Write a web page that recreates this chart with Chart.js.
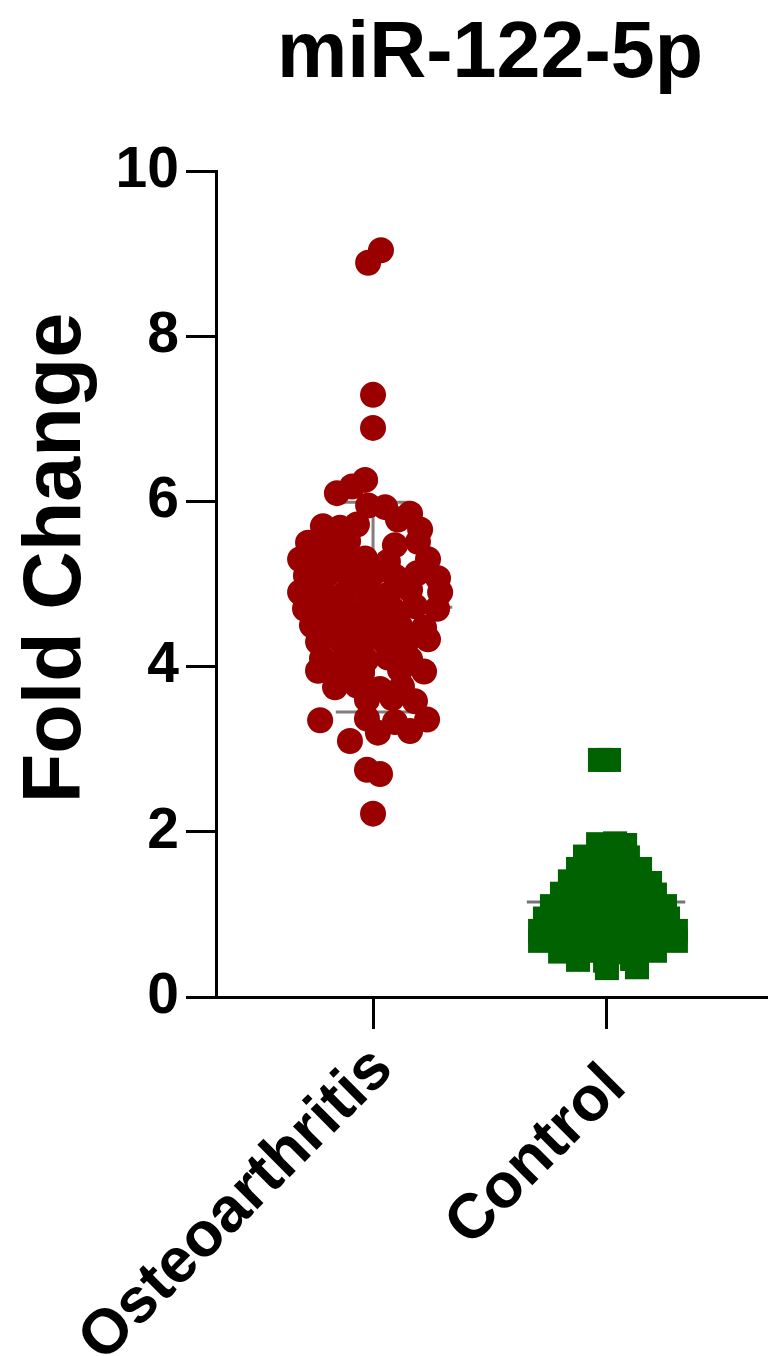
<!DOCTYPE html>
<html>
<head>
<meta charset="utf-8">
<script src="https://cdn.jsdelivr.net/npm/chart.js@4.4.0/dist/chart.umd.min.js"></script>
<style>
  body { margin: 0; background: #fff; }
  canvas { display: block; }
</style>
</head>
<body>
<canvas id="chart" width="769" height="1356"></canvas>
<script>
const chartTitle = "miR-122-5p";
const yTitle = "Fold Change";
const groups = ["Osteoarthritis", "Control"];
const groupPos = [1, 2];
const yTicks = [0, 2, 4, 6, 8, 10];

// Osteoarthritis: fold change values + horizontal jitter (x offset from group centre)
const oaValues = [
  9.04, 8.89, 7.29, 6.89, 6.26, 6.18, 6.10, 5.95, 5.93, 5.85, 5.78,
  5.70, 5.68, 5.72, 5.66,
  5.50, 5.48, 5.52, 5.47, 5.51,
  5.30, 5.32, 5.28, 5.31, 5.27, 5.30,
  5.10, 5.12, 5.08, 5.11, 5.09, 5.13, 5.07,
  4.90, 4.92, 4.88, 4.91, 4.87, 4.93, 4.90,
  4.70, 4.72, 4.68, 4.71, 4.69, 4.73, 4.70,
  4.50, 4.52, 4.48, 4.51, 4.49, 4.47,
  4.30, 4.32, 4.28, 4.31, 4.29, 4.33,
  4.10, 4.12, 4.08, 4.11, 4.09,
  3.95, 3.97, 3.93, 3.96, 3.94,
  3.75, 3.77, 3.73, 3.76,
  3.60, 3.62, 3.58,
  3.35, 3.37, 3.33, 3.36,
  3.20, 3.22,
  3.10,
  2.75, 2.70,
  2.22
];
const oaJitter = [
  0.034, -0.021, 0, 0, -0.034, -0.090, -0.155, -0.021, 0.052, 0.159, 0.107,
  -0.215, -0.142, -0.069, 0.202,
  -0.279, -0.185, -0.107, 0.094, 0.193,
  -0.313, -0.219, -0.120, -0.034, 0.064, 0.236,
  -0.288, -0.193, -0.099, -0.004, 0.094, 0.189, 0.279,
  -0.313, -0.219, -0.124, -0.030, 0.064, 0.159, 0.288,
  -0.292, -0.197, -0.103, -0.009, 0.086, 0.180, 0.275,
  -0.262, -0.167, -0.073, 0.021, 0.116, 0.219,
  -0.236, -0.142, -0.047, 0.047, 0.142, 0.236,
  -0.219, -0.124, -0.030, 0.064, 0.159,
  -0.236, -0.142, -0.047, 0.116, 0.219,
  -0.163, -0.069, 0.030, 0.124,
  -0.026, 0.082, 0.180,
  -0.227, -0.026, 0.094, 0.232,
  0.021, 0.159,
  -0.099,
  -0.026, 0.030,
  0
];

// Control
const ctrlValues = [
  2.87, 2.87,
  1.85, 1.86, 1.84,
  1.70, 1.71, 1.69,
  1.55, 1.56, 1.54, 1.55,
  1.40, 1.41, 1.39, 1.40, 1.38,
  1.25, 1.26, 1.24, 1.25, 1.26, 1.24,
  1.10, 1.11, 1.09, 1.10, 1.11, 1.09, 1.10,
  0.95, 0.96, 0.94, 0.95, 0.96, 0.94, 0.95,
  0.80, 0.81, 0.79, 0.80, 0.81, 0.79, 0.80, 0.80,
  0.68, 0.69, 0.67, 0.68, 0.69, 0.68,
  0.55, 0.56, 0.54, 0.55, 0.56,
  0.45, 0.44, 0.46,
  0.35, 0.36
];
const ctrlJitter = [
  -0.026, 0.013,
  -0.034, 0.039, 0.082,
  -0.090, -0.004, 0.094,
  -0.120, -0.034, 0.052, 0.146,
  -0.155, -0.069, 0.017, 0.103, 0.189,
  -0.189, -0.103, -0.017, 0.069, 0.155, 0.210,
  -0.232, -0.146, -0.060, 0.026, 0.112, 0.197, 0.253,
  -0.262, -0.176, -0.090, -0.004, 0.082, 0.167, 0.266,
  -0.283, -0.197, -0.112, -0.026, 0.060, 0.146, 0.232, 0.300,
  -0.283, -0.176, -0.069, 0.039, 0.146, 0.300,
  -0.197, -0.090, 0.017, 0.124, 0.210,
  -0.120, -0.004, 0.112,
  0.004, 0.133
];

// mean and SD per group
const groupMean = [4.72, 1.15];
const groupSD = [1.27, 0.45];

const FONT = "'Liberation Sans', Arial, sans-serif";

function points(values, jitter, pos) {
  return values.map((v, i) => ({ x: pos + jitter[i], y: v }));
}

// mean line + SD error bar for one group
function summaryLines(i) {
  const c = groupPos[i], m = groupMean[i], sd = groupSD[i];
  const half = 0.34, cap = 0.16;
  return [
    { x: c - half, y: m }, { x: c + half, y: m }, { x: NaN, y: NaN },
    { x: c, y: m - sd }, { x: c, y: m + sd }, { x: NaN, y: NaN },
    { x: c - cap, y: m + sd }, { x: c + cap, y: m + sd }, { x: NaN, y: NaN },
    { x: c - cap, y: m - sd }, { x: c + cap, y: m - sd },
  ];
}

// titles + rotated category labels drawn on the canvas
const labelDrop = [62, 80]; // distance below the axis line for each rotated label
const textPlugin = {
  id: "textPlugin",
  afterDraw(chart) {
    const ctx = chart.ctx;
    const xScale = chart.scales.x;
    ctx.save();
    ctx.fillStyle = "#000";
    ctx.font = "bold 79px " + FONT;
    ctx.textAlign = "center";
    ctx.textBaseline = "alphabetic";
    ctx.fillText(chartTitle, 490, 77);

    // category labels at 45 degrees, text ends under the tick
    ctx.font = "bold 63px " + FONT;
    ctx.textAlign = "right";
    ctx.textBaseline = "middle";
    groups.forEach((g, i) => {
      const px = xScale.getPixelForValue(groupPos[i]);
      ctx.save();
      ctx.translate(px + 10, xScale.top + labelDrop[i]);
      ctx.rotate(-Math.PI / 4);
      ctx.fillText(g, 0, 0);
      ctx.restore();
    });

    ctx.translate(80, 558);
    ctx.rotate(-Math.PI / 2);
    ctx.font = "bold 81px " + FONT;
    ctx.textAlign = "center";
    ctx.textBaseline = "alphabetic";
    ctx.fillText(yTitle, 0, 0);
    ctx.restore();
  },
};

new Chart(document.getElementById("chart"), {
  type: "scatter",
  data: {
    datasets: [
      {
        label: groups[0],
        data: points(oaValues, oaJitter, groupPos[0]),
        backgroundColor: "rgb(155, 0, 0)",
        borderWidth: 0,
        pointRadius: 13,
        pointHoverRadius: 13,
        order: 0,
      },
      {
        label: groups[1],
        data: points(ctrlValues, ctrlJitter, groupPos[1]),
        backgroundColor: "rgb(0, 98, 0)",
        borderWidth: 0,
        pointStyle: "rect",
        pointRadius: 17,
        pointHoverRadius: 17,
        order: 0,
      },
      {
        label: "oa summary",
        type: "line",
        data: summaryLines(0),
        borderColor: "rgba(120, 110, 110, 0.9)",
        borderWidth: 3,
        pointRadius: 0,
        spanGaps: false,
        order: 1,
      },
      {
        label: "ctrl summary",
        type: "line",
        data: summaryLines(1),
        borderColor: "rgba(100, 100, 100, 0.9)",
        borderWidth: 3,
        pointRadius: 0,
        spanGaps: false,
        order: 1,
      },
    ],
  },
  options: {
    responsive: false,
    animation: false,
    layout: {
      autoPadding: false,
      padding: { top: 171, right: 2, left: 0, bottom: 0 },
    },
    plugins: {
      legend: { display: false },
      tooltip: { enabled: false },
      title: { display: false },
    },
    scales: {
      x: {
        type: "linear",
        min: 0.326,
        max: 2.691,
        afterBuildTicks: (scale) => {
          scale.ticks = groupPos.map((v) => ({ value: v }));
        },
        afterFit: (scale) => {
          scale.height = 359;
        },
        border: { display: true, color: "#000", width: 3 },
        grid: {
          drawOnChartArea: false,
          drawTicks: true,
          tickLength: 32,
          tickWidth: 3,
          tickColor: "#000",
        },
        ticks: { display: false },
      },
      y: {
        min: 0,
        max: 10,
        afterBuildTicks: (scale) => {
          scale.ticks = yTicks.map((v) => ({ value: v }));
        },
        afterFit: (scale) => {
          scale.width = 216;
        },
        border: { display: true, color: "#000", width: 3 },
        grid: {
          drawOnChartArea: false,
          drawTicks: true,
          tickLength: 30,
          tickWidth: 3,
          tickColor: "#000",
        },
        ticks: {
          padding: 7,
          color: "#000",
          font: { family: FONT, size: 57, weight: "bold" },
        },
      },
    },
  },
  plugins: [textPlugin],
});
</script>
</body>
</html>
